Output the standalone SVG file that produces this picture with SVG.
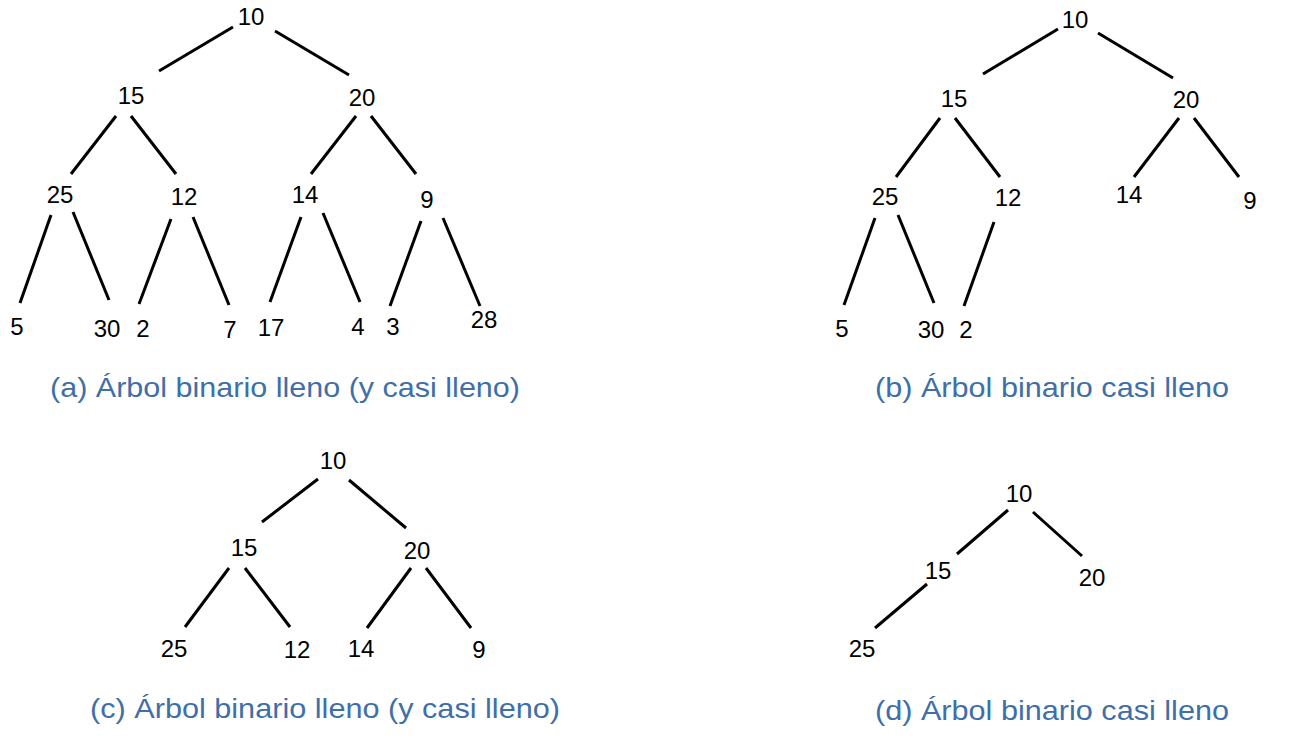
<svg xmlns="http://www.w3.org/2000/svg" width="1315" height="739" viewBox="0 0 1315 739">
<style>
.n{font-family:"Liberation Sans",Arial,sans-serif;font-size:24px;fill:#000;text-anchor:middle}
.cap{font-family:"Liberation Sans",Arial,sans-serif;font-size:28px;fill:#3F6FA8}
.e line{stroke:#000;stroke-width:3;stroke-linecap:butt}
</style>
<rect width="1315" height="739" fill="#fff"/>
<g id="connectors" class="e">
<!-- tree a -->
<line x1="233" y1="27" x2="159" y2="71"/>
<line x1="275" y1="31" x2="349" y2="75"/>
<line x1="116" y1="116" x2="71" y2="174"/>
<line x1="131" y1="116" x2="176" y2="174"/>
<line x1="356" y1="116" x2="311" y2="174"/>
<line x1="371" y1="116" x2="416" y2="174"/>
<line x1="51" y1="215" x2="20" y2="303"/>
<line x1="73" y1="212" x2="109" y2="300"/>
<line x1="171" y1="219" x2="139" y2="304"/>
<line x1="193" y1="217" x2="229" y2="305"/>
<line x1="301" y1="217" x2="270" y2="302"/>
<line x1="323" y1="213" x2="360" y2="302"/>
<line x1="421" y1="221" x2="390" y2="306"/>
<line x1="443" y1="218" x2="480" y2="306"/>
<!-- tree b -->
<line x1="1058" y1="29" x2="983" y2="74"/>
<line x1="1098" y1="33" x2="1173" y2="78"/>
<line x1="940" y1="118" x2="896" y2="177"/>
<line x1="955" y1="118" x2="1000" y2="177"/>
<line x1="1179" y1="118" x2="1134" y2="177"/>
<line x1="1194" y1="118" x2="1239" y2="177"/>
<line x1="875" y1="218" x2="844" y2="305"/>
<line x1="898" y1="215" x2="934" y2="303"/>
<line x1="994" y1="222" x2="964" y2="306"/>
<!-- tree c -->
<line x1="318" y1="479" x2="262" y2="522"/>
<line x1="349" y1="480" x2="406" y2="528"/>
<line x1="229" y1="568" x2="185" y2="627"/>
<line x1="245" y1="568" x2="290" y2="627"/>
<line x1="411" y1="568" x2="367" y2="628"/>
<line x1="426" y1="568" x2="471" y2="628"/>
<!-- tree d -->
<line x1="1008" y1="510" x2="957" y2="554"/>
<line x1="1033" y1="512" x2="1082" y2="556"/>
<line x1="927" y1="584" x2="875" y2="628"/>
</g>
<g id="tree-a">
<g id="a10"><text class="n" x="251" y="25">10</text></g>
<g id="a15"><text class="n" x="131" y="104">15</text></g>
<g id="a20"><text class="n" x="362" y="106">20</text></g>
<g id="a25"><text class="n" x="60" y="203">25</text></g>
<g id="a12"><text class="n" x="184" y="205">12</text></g>
<g id="a14"><text class="n" x="305" y="203">14</text></g>
<g id="a9"><text class="n" x="427" y="208">9</text></g>
<g id="a5"><text class="n" x="17" y="335">5</text></g>
<g id="a30"><text class="n" x="107" y="337">30</text></g>
<g id="a2"><text class="n" x="143" y="337">2</text></g>
<g id="a7"><text class="n" x="230" y="338">7</text></g>
<g id="a17"><text class="n" x="271" y="336">17</text></g>
<g id="a4"><text class="n" x="358" y="335">4</text></g>
<g id="a3"><text class="n" x="393" y="335">3</text></g>
<g id="a28"><text class="n" x="484" y="328">28</text></g>
<g id="cap-a"><text class="cap" x="50" y="397" textLength="470" lengthAdjust="spacingAndGlyphs">(a) Árbol binario lleno (y casi lleno)</text></g>
</g>
<g id="tree-b">
<g id="b10"><text class="n" x="1075" y="28">10</text></g>
<g id="b15"><text class="n" x="954" y="107">15</text></g>
<g id="b20"><text class="n" x="1186" y="108">20</text></g>
<g id="b25"><text class="n" x="885" y="205">25</text></g>
<g id="b12"><text class="n" x="1008" y="206">12</text></g>
<g id="b14"><text class="n" x="1129" y="203">14</text></g>
<g id="b9"><text class="n" x="1250" y="209">9</text></g>
<g id="b5"><text class="n" x="842" y="337">5</text></g>
<g id="b30"><text class="n" x="931" y="338">30</text></g>
<g id="b2"><text class="n" x="966" y="338">2</text></g>
<g id="cap-b"><text class="cap" x="875" y="397" textLength="354" lengthAdjust="spacingAndGlyphs">(b) Árbol binario casi lleno</text></g>
</g>
<g id="tree-c">
<g id="c10"><text class="n" x="333" y="469">10</text></g>
<g id="c15"><text class="n" x="244" y="556">15</text></g>
<g id="c20"><text class="n" x="417" y="559">20</text></g>
<g id="c25"><text class="n" x="174" y="657">25</text></g>
<g id="c12"><text class="n" x="297" y="658">12</text></g>
<g id="c14"><text class="n" x="361" y="657">14</text></g>
<g id="c9"><text class="n" x="479" y="658">9</text></g>
<g id="cap-c"><text class="cap" x="90" y="718" textLength="470" lengthAdjust="spacingAndGlyphs">(c) Árbol binario lleno (y casi lleno)</text></g>
</g>
<g id="tree-d">
<g id="d10"><text class="n" x="1019" y="502">10</text></g>
<g id="d15"><text class="n" x="938" y="579">15</text></g>
<g id="d20"><text class="n" x="1092" y="586">20</text></g>
<g id="d25"><text class="n" x="862" y="657">25</text></g>
<g id="cap-d"><text class="cap" x="875" y="720" textLength="354" lengthAdjust="spacingAndGlyphs">(d) Árbol binario casi lleno</text></g>
</g>
</svg>
